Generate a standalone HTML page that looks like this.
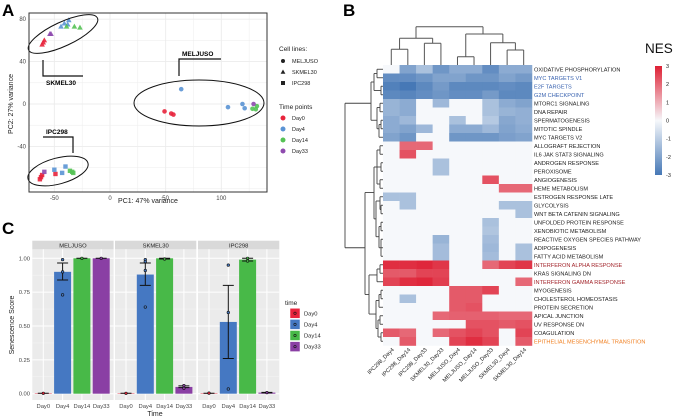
<!DOCTYPE html>
<html><head><meta charset="utf-8"><style>
html,body{margin:0;padding:0;background:#fff;}
svg{display:block;font-family:"Liberation Sans",sans-serif;}
</style></head><body>
<svg id="fig" width="675" height="417" viewBox="0 0 675 417">
<text x="2" y="16" font-size="17" font-weight="bold">A</text>
<text x="343" y="16" font-size="17" font-weight="bold">B</text>
<text x="2" y="234" font-size="17" font-weight="bold">C</text>
<g id="pa"></g>
<g id="pb"></g>
<g id="pc"></g>
</svg>
<script>
const NS="http://www.w3.org/2000/svg";
function mk(p,tag,at,txt){const e=document.createElementNS(NS,tag);for(const k in at)e.setAttribute(k,at[k]);if(txt!==undefined)e.textContent=txt;p.appendChild(e);return e;}
const COL={Day0:"#e8243c",Day4:"#5a93d4",Day14:"#55c255",Day33:"#8e4aae"};

/* ---------- Panel A data ---------- */
const pcaLines=["MELJUSO","MELJUSO","MELJUSO","MELJUSO","MELJUSO","MELJUSO","MELJUSO","MELJUSO","MELJUSO","MELJUSO","MELJUSO",
"SKMEL30","SKMEL30","SKMEL30","SKMEL30","SKMEL30","SKMEL30","SKMEL30","SKMEL30","SKMEL30","SKMEL30","SKMEL30","SKMEL30",
"IPC298","IPC298","IPC298","IPC298","IPC298","IPC298","IPC298","IPC298","IPC298","IPC298","IPC298"];
const pcaTimes=["Day0","Day0","Day0","Day4","Day4","Day4","Day4","Day14","Day14","Day14","Day33",
"Day0","Day0","Day0","Day33","Day33","Day4","Day4","Day4","Day4","Day14","Day14","Day14",
"Day0","Day0","Day0","Day33","Day4","Day4","Day4","Day14","Day14","Day14","Day0"];
const pc1=[49,55,57,64,106,119,121,128,131,132,129,
-61,-60,-59,-54,-53,-44,-41,-37,-38,-39,-32,-27,
-63,-61,-49,-59,-50,-43,-40,-36,-33,-34,-62];
const pc2=[-7,-9,-10,14,-3,0,-4,-4.5,-5,-2,0,
56,58,60,66,66,73,76,79,75,73,73,72,
-71,-67,-66,-64,-62,-65,-59,-63,-65,-64,-69];
const pcaXTicks=[-50,0,50,100];
const pcaYTicks=[-40,0,40,80];

(function(){
const g=document.getElementById('pa');
const L=29,R=267,T=13,B=192;
const xs=v=>110+v*1.113, ys=v=>104-v*1.06;
const bg=mk(g,'rect',{x:L,y:T,width:R-L,height:B-T,fill:'#fff'});


for(let v=-75;v<=140;v+=25){const x=xs(v);if(x<L||x>R)continue;const l=mk(g,'line',{x1:x,x2:x,y1:T,y2:B,stroke:'#ececec','stroke-width':pcaXTicks.includes(v)?0.9:0.5});

}
for(let v=-80;v<=90;v+=20){const y=ys(v);if(y<T||y>B)continue;const l=mk(g,'line',{x1:L,x2:R,y1:y,y2:y,stroke:'#ececec','stroke-width':pcaYTicks.includes(v)?0.9:0.5});

}
pcaXTicks.forEach(v=>{const t=mk(g,'text',{x:xs(v),y:B+8,'font-size':6,'text-anchor':'middle',fill:'#444'},String(v));

});
pcaYTicks.forEach(v=>{const t=mk(g,'text',{x:L-3,y:ys(v)+2,'font-size':6,'text-anchor':'end',fill:'#444'},String(v));

});
pc1.forEach((v,i)=>{const x=xs(v),y=ys(pc2[i]),c=COL[pcaTimes[i]],ln=pcaLines[i];let e;
if(ln==='MELJUSO')e=mk(g,'circle',{cx:x,cy:y,r:2.3,fill:c,opacity:0.9});
else if(ln==='SKMEL30')e=mk(g,'polygon',{points:`${x},${y-3} ${x-2.8},${y+2} ${x+2.8},${y+2}`,fill:c,opacity:0.9});
else e=mk(g,'rect',{x:x-2.2,y:y-2.2,width:4.4,height:4.4,fill:c,opacity:0.9});

});
const el=[[63,34,38,12,-25,'skmel30-cluster-ellipse'],[199,103,65,23,0,'meljuso-cluster-ellipse'],[58,171,31,13,-15,'ipc298-cluster-ellipse']];
el.forEach(a=>{const e=mk(g,'ellipse',{cx:a[0],cy:a[1],rx:a[2],ry:a[3],transform:`rotate(${a[4]} ${a[0]} ${a[1]})`,fill:'none',stroke:'#111','stroke-width':1});

});
const ll=[[43,60,43,76,83,76,'skmel30'],[179,76,179,59,221,59,'meljuso'],[73,153,73,137,43,137,'ipc298']];
ll.forEach(a=>{const p=mk(g,'polyline',{points:`${a[0]},${a[1]} ${a[2]},${a[3]} ${a[4]},${a[5]}`,fill:'none',stroke:'#111','stroke-width':1.2});

});
const lb=[[46,85,'SKMEL30'],[182,56,'MELJUSO'],[46,134,'IPC298']];
lb.forEach(a=>{const t=mk(g,'text',{x:a[0],y:a[1],'font-size':6.5,'font-weight':'bold'},a[2]);

});
const br=mk(g,'rect',{x:L,y:T,width:R-L,height:B-T,fill:'none',stroke:'#333','stroke-width':1});


let t=mk(g,'text',{x:148,y:203,'font-size':7,'text-anchor':'middle',fill:'#222'},'PC1: 47% variance');


t=mk(g,'text',{x:0,y:0,'font-size':7,'text-anchor':'middle',fill:'#222',transform:'translate(13,104) rotate(-90)'},'PC2: 27% variance');


t=mk(g,'text',{x:279,y:51,'font-size':6.5,fill:'#222'},'Cell lines:');


['MELJUSO','SKMEL30','IPC298'].forEach((n,i)=>{const y=61+i*11;let e;
if(i===0)e=mk(g,'circle',{cx:283,cy:y,r:2,fill:'#222'});
else if(i===1)e=mk(g,'polygon',{points:`283,${y-2.5} 280.6,${y+1.8} 285.4,${y+1.8}`,fill:'#222'});
else e=mk(g,'rect',{x:281,y:y-2,width:4,height:4,fill:'#222'});


const tt=mk(g,'text',{x:292,y:y+2,'font-size':5.5,fill:'#222'},n);

});
t=mk(g,'text',{x:279,y:109,'font-size':6.5,fill:'#222'},'Time points');


['Day0','Day4','Day14','Day33'].forEach((n,i)=>{const y=118+i*11;
const e=mk(g,'circle',{cx:283,cy:y,r:2.5,fill:COL[n]});


const tt=mk(g,'text',{x:292,y:y+2,'font-size':5.5,fill:'#222'},n);

});
})();

/* ---------- Panel B data ---------- */
const hmCols=["IPC298_Day4","IPC298_Day14","IPC298_Day33","SKMEL30_Day33","MELJUSO_Day4","MELJUSO_Day14","MELJUSO_Day33","SKMEL30_Day4","SKMEL30_Day14"];
const hmRows=["OXIDATIVE PHOSPHORYLATION","MYC TARGETS V1","E2F TARGETS","G2M CHECKPOINT","MTORC1 SIGNALING","DNA REPAIR","SPERMATOGENESIS","MITOTIC SPINDLE","MYC TARGETS V2","ALLOGRAFT REJECTION","IL6 JAK STAT3 SIGNALING","ANDROGEN RESPONSE","PEROXISOME","ANGIOGENESIS","HEME METABOLISM","ESTROGEN RESPONSE LATE","GLYCOLYSIS","WNT BETA CATENIN SIGNALING","UNFOLDED PROTEIN RESPONSE","XENOBIOTIC METABOLISM","REACTIVE OXYGEN SPECIES PATHWAY","ADIPOGENESIS","FATTY ACID METABOLISM","INTERFERON ALPHA RESPONSE","KRAS SIGNALING DN","INTERFERON GAMMA RESPONSE","MYOGENESIS","CHOLESTEROL HOMEOSTASIS","PROTEIN SECRETION","APICAL JUNCTION","UV RESPONSE DN","COAGULATION","EPITHELIAL MESENCHYMAL TRANSITION"];
const hmRowColors=["#222","#3a63b0","#3a63b0","#3a63b0","#222","#222","#222","#222","#222","#222","#222","#222","#222","#222","#222","#222","#222","#222","#222","#222","#222","#222","#222","#a3262c","#222","#a3262c","#222","#222","#222","#222","#222","#222","#f07f20"];
const nes=[
[0,-2,-1.3,-2.3,-1.8,-1.8,-2.5,-1.8,-1.8],
[-2.5,-2.5,-2.3,-2,-2,-2.3,-2.3,-2,-2.2],
[-2.8,-3,-2.6,-2.2,-2.6,-2.6,-2.6,-2.5,-2.6],
[-2.6,-2.7,-2.5,-2.3,-2.5,-2.5,-2.2,-2.6,-2.6],
[-1.6,-1.8,0,-1.5,0,0,-1.3,-1.8,-2],
[-1.6,-1.8,0,0,0,0,-1.3,-1.6,-1.7],
[-1.8,-1.5,0,0,-1.3,0,-1.1,-1.9,-1.7],
[-1.8,-2,-1.5,0,-1.8,-1.8,-1.5,-2,-1.8],
[-2,-2.3,0,0,-2.3,-2.3,-2.3,-2.1,-2],
[0,2,2,0,0,0,0,0,0],
[0,2.3,0,0,0,0,0,0,0],
[0,0,0,-1.3,0,0,0,0,0],
[0,0,0,-1.3,0,0,0,0,0],
[0,0,0,0,0,0,2.3,0,0],
[0,0,0,0,0,0,0,2,2],
[-1.3,-1.3,0,0,0,0,0,0,0],
[0,-1.3,0,0,0,0,0,-1.3,-1.3],
[0,0,0,0,0,0,0,0,-1.3],
[0,0,0,0,0,0,-1.3,0,0],
[0,0,0,0,0,0,-1.2,0,0],
[0,0,0,-1.6,0,0,-1.4,0,0],
[0,0,0,-1.4,0,0,-1.5,0,-1.3],
[0,0,0,-1.4,0,0,-1.4,0,-1.3],
[2.8,2.8,2.9,2.7,0,0,2,2.5,2.7],
[2.2,2.2,2.5,2.5,0,0,0,0,0],
[2.5,2.8,2.9,2.6,0,0,0,0,2],
[0,0,0,0,2.2,2.2,2.5,0,0],
[0,-1.3,0,0,2.2,2.2,0,0,0],
[0,0,0,0,2.2,2.3,0,0,0],
[0,0,0,2,2.1,2.1,2.1,2,2],
[0,0,0,0,0,2.3,2.3,2.2,2.3],
[2.2,2,0,2,2.3,2.5,2.3,0,2.5],
[0,2.2,0,0,2.5,2.8,2.5,0,2.2]];
const nesTicks=[3,2,1,0,-1,-2,-3];

(function(){
const g=document.getElementById('pb');
const X0=383,CW=16.55,Y0=65,RH=8.5;
const cx=i=>X0+CW*(i+0.5), ry=i=>Y0+RH*i;
const W=[246,248,251],BL=[70,120,182],RD=[222,32,52];
function col(v){const t=Math.min(Math.abs(v)/3,1),c=v<0?BL:RD;return `rgb(${W.map((w,k)=>Math.round(w+(c[k]-w)*t)).join(',')})`;}
nes.forEach((row,r)=>row.forEach((v,c)=>{const e=mk(g,'rect',{x:X0+CW*c,y:ry(r),width:CW+0.3,height:RH+0.3,fill:col(v)});

}));
hmRows.forEach((n,r)=>{const t=mk(g,'text',{x:534,y:ry(r)+RH/2+2.1,'font-size':5.6,fill:hmRowColors[r]},n);

});
hmCols.forEach((n,c)=>{const x=cx(c)+3,y=350;const t=mk(g,'text',{x:0,y:0,'font-size':5.6,'text-anchor':'end',fill:'#222',transform:`translate(${x},${y}) rotate(-45)`},n);

});
const td=[[cx(0),65,cx(0),49.3],[cx(1),65,cx(1),49.3],[cx(0),49.3,cx(1),49.3],
[cx(2),65,cx(2),43.3],[cx(3),65,cx(3),43.3],[cx(2),43.3,cx(3),43.3],
[(cx(0)+cx(1))/2,49.3,(cx(0)+cx(1))/2,38.3],[(cx(2)+cx(3))/2,43.3,(cx(2)+cx(3))/2,38.3],[(cx(0)+cx(1))/2,38.3,(cx(2)+cx(3))/2,38.3],
[cx(4),65,cx(4),56.7],[cx(5),65,cx(5),56.7],[cx(4),56.7,cx(5),56.7],
[cx(7),65,cx(7),50],[cx(8),65,cx(8),50],[cx(7),50,cx(8),50],
[cx(6),65,cx(6),42.7],[(cx(7)+cx(8))/2,50,(cx(7)+cx(8))/2,42.7],[cx(6),42.7,(cx(7)+cx(8))/2,42.7],
[(cx(4)+cx(5))/2,56.7,(cx(4)+cx(5))/2,34],[(cx(6)+cx(7))/2+4,42.7,(cx(6)+cx(7))/2+4,34],[(cx(4)+cx(5))/2,34,(cx(6)+cx(7))/2+4,34],
[416,38.3,416,26.7],[483,34,483,26.7],[416,26.7,483,26.7]];
td.forEach(a=>{const l=mk(g,'line',{x1:a[0],y1:a[1],x2:a[2],y2:a[3],stroke:'#555','stroke-width':1});

});
const rc=i=>ry(i)+RH/2;
const ld=[
[383,rc(0),377,rc(0)],[383,rc(1),377,rc(1)],[377,rc(0),377,rc(1)],
[383,rc(2),381,rc(2)],[383,rc(3),381,rc(3)],[381,rc(2),381,rc(3)],[381,(rc(2)+rc(3))/2,377,(rc(2)+rc(3))/2],
[377,(rc(0)+rc(1))/2,374,(rc(0)+rc(1))/2],[377,(rc(2)+rc(3))/2,374,(rc(2)+rc(3))/2],[374,(rc(0)+rc(1))/2,374,(rc(2)+rc(3))/2],
[383,rc(4),380,rc(4)],[383,rc(5),380,rc(5)],[380,rc(4),380,rc(5)],
[383,rc(6),381,rc(6)],[383,rc(7),381,rc(7)],[381,rc(6),381,rc(7)],[381,(rc(6)+rc(7))/2,379,(rc(6)+rc(7))/2],[383,rc(8),379,rc(8)],[379,(rc(6)+rc(7))/2,379,rc(8)],
[380,(rc(4)+rc(5))/2,377,(rc(4)+rc(5))/2],[379,rc(7),377,rc(7)],[377,(rc(4)+rc(5))/2,377,rc(7)],
[374,rc(1.5),371,rc(1.5)],[377,rc(6),371,rc(6)],[371,rc(1.5),371,rc(6)],
[371,rc(4),345,rc(4)],[345,rc(4),345,rc(21)],
[383,rc(9),380,rc(9)],[383,rc(10),380,rc(10)],[380,rc(9),380,rc(10)],
[383,rc(11),381,rc(11)],[383,rc(12),381,rc(12)],[381,rc(11),381,rc(12)],
[383,rc(13),380,rc(13)],[383,rc(14),380,rc(14)],[380,rc(13),380,rc(14)],
[380,rc(9.5),377,rc(9.5)],[381,rc(11.5),377,rc(11.5)],[380,rc(13.5),377,rc(13.5)],[377,rc(9.5),377,rc(13.5)],
[383,rc(15),380,rc(15)],[383,rc(16),381,rc(16)],[383,rc(17),381,rc(17)],[381,rc(16),381,rc(17)],[380,rc(15),380,rc(16.5)],[381,rc(16.5),380,rc(16.5)],
[383,rc(18),381,rc(18)],[383,rc(19),381,rc(19)],[381,rc(18),381,rc(19)],
[383,rc(20),381,rc(20)],[383,rc(21),381,rc(21)],[383,rc(22),381,rc(22)],[381,rc(20),381,rc(22)],
[381,rc(18.5),379,rc(18.5)],[381,rc(21),379,rc(21)],[379,rc(18.5),379,rc(21)],
[380,rc(15.5),376,rc(15.5)],[379,rc(19.7),376,rc(19.7)],[376,rc(15.5),376,rc(19.7)],
[377,rc(11.5),374,rc(11.5)],[376,rc(17.6),374,rc(17.6)],[374,rc(11.5),374,rc(17.6)],
[374,rc(14.5),365,rc(14.5)],
[383,rc(23),380,rc(23)],[383,rc(24),380,rc(24)],[380,rc(23),380,rc(24)],[380,rc(23.5),377,rc(23.5)],[383,rc(25),377,rc(25)],[377,rc(23.5),377,rc(25)],
[383,rc(26),381,rc(26)],[383,rc(27),381,rc(27)],[381,rc(26),381,rc(27)],[381,rc(26.5),379,rc(26.5)],[383,rc(28),379,rc(28)],[379,rc(26.5),379,rc(28)],
[383,rc(29),380,rc(29)],[383,rc(30),380,rc(30)],[380,rc(29),380,rc(30)],
[383,rc(31),381,rc(31)],[383,rc(32),381,rc(32)],[381,rc(31),381,rc(32)],
[380,rc(29.5),378,rc(29.5)],[381,rc(31.5),378,rc(31.5)],[378,rc(29.5),378,rc(31.5)],
[379,rc(27.2),376,rc(27.2)],[378,rc(30.5),376,rc(30.5)],[376,rc(27.2),376,rc(30.5)],
[377,rc(24.2),369,rc(24.2)],[376,rc(28.8),369,rc(28.8)],[369,rc(24.2),369,rc(28.8)],
[365,rc(14.5),365,rc(26.5)],[369,rc(26.5),365,rc(26.5)],[365,rc(21),345,rc(21)]];
ld.forEach(a=>{const l=mk(g,'line',{x1:a[0],y1:a[1],x2:a[2],y2:a[3],stroke:'#444','stroke-width':0.9});

});
let t=mk(g,'text',{x:645,y:53,'font-size':13.5,fill:'#111'},'NES');


const defs=mk(g,'defs',{});
const lg=mk(defs,'linearGradient',{id:'nesgrad',x1:0,y1:0,x2:0,y2:1});
[[0,'rgb(222,32,52)'],[0.5,'rgb(246,248,251)'],[1,'rgb(70,120,182)']].forEach(s=>mk(lg,'stop',{offset:s[0],'stop-color':s[1]}));
const cb=mk(g,'rect',{x:655,y:66,width:7,height:109,fill:'url(#nesgrad)'});


nesTicks.forEach(v=>{const y=120.5-v*18.2;const tt=mk(g,'text',{x:666,y:y+2,'font-size':5.5,fill:'#222'},String(v));

});
})();

/* ---------- Panel C data ---------- */
const cellLines=["MELJUSO","SKMEL30","IPC298"];
const timeCats=["Day0","Day4","Day14","Day33"];
const scoreMean=[[0.003,0.90,1.0,1.0],[0.003,0.88,1.0,0.05],[0.003,0.53,0.99,0.008]];
const scoreLo=[[0.003,0.84,1.0,1.0],[0.003,0.80,0.995,0.045],[0.003,0.26,0.98,0.006]];
const scoreHi=[[0.003,0.965,1.0,1.0],[0.003,0.965,1.0,0.058],[0.003,0.80,1.0,0.01]];
const scorePts=[[[0.003],[0.73,0.90,0.99],[1.0],[1.0]],[[0.003],[0.64,0.91,0.99,0.975],[0.995],[0.04,0.06]],[[0.004],[0.035,0.60,0.95],[0.98,1.0],[0.008]]];
const scoreTicks=[0,0.25,0.5,0.75,1.0];
const scoreTickLabels=["0.00","0.25","0.50","0.75","1.00"];

(function(){
const g=document.getElementById('pc');
const T=249.3,B=400,panelX=[32.3,115,198],PW=81.3;
const ys=v=>393.7-v*135.4;
const BC={Day0:"#e8243c",Day4:"#4578c2",Day14:"#48b948",Day33:"#8a3fa4"};
cellLines.forEach((n,p)=>{const x0=panelX[p];
const bg=mk(g,'rect',{x:x0,y:T,width:PW,height:B-T,fill:'#ebebeb'});


const st=mk(g,'rect',{x:x0,y:240.7,width:PW,height:8.6,fill:'#d9d9d9'});


const stt=mk(g,'text',{x:x0+PW/2,y:247.3,'font-size':5.8,'text-anchor':'middle',fill:'#222'},n);


for(let v=0.125;v<1.1;v+=0.25){const l=mk(g,'line',{x1:x0,x2:x0+PW,y1:ys(v),y2:ys(v),stroke:'#f5f5f5','stroke-width':0.5});

}
scoreTicks.forEach(v=>{const l=mk(g,'line',{x1:x0,x2:x0+PW,y1:ys(v),y2:ys(v),stroke:'#fff','stroke-width':1});

});
const bx=i=>x0+11+i*19.3;
timeCats.forEach((tc,i)=>{const l=mk(g,'line',{x1:bx(i),x2:bx(i),y1:T,y2:B,stroke:'#fff','stroke-width':1});


const tt=mk(g,'text',{x:bx(i),y:408,'font-size':5.8,'text-anchor':'middle',fill:'#444'},tc);

});
timeCats.forEach((tc,i)=>{const m=scoreMean[p][i],x=bx(i);
const b=mk(g,'rect',{x:x-8.5,y:ys(m),width:17,height:Math.max(ys(0)-ys(m),0.4),fill:BC[tc]});


const lo=ys(scoreLo[p][i]),hi=ys(scoreHi[p][i]);
const e=mk(g,'path',{d:`M${x-5.5},${hi}H${x+5.5}M${x},${hi}V${lo}M${x-5.5},${lo}H${x+5.5}`,stroke:'#111','stroke-width':1,fill:'none'});


scorePts[p][i].forEach(v=>{const c=mk(g,'circle',{cx:x,cy:ys(v),r:1.3,fill:BC[tc],stroke:'#111','stroke-width':0.6});

});});
});
scoreTicks.forEach((v,i)=>{const t=mk(g,'text',{x:30,y:ys(v)+2,'font-size':5.8,'text-anchor':'end',fill:'#444'},scoreTickLabels[i]);

});
let t=mk(g,'text',{x:155,y:416,'font-size':7,'text-anchor':'middle',fill:'#222'},'Time');


t=mk(g,'text',{x:0,y:0,'font-size':7,'text-anchor':'middle',fill:'#222',transform:'translate(14,325) rotate(-90)'},'Senescence Score');


t=mk(g,'text',{x:285,y:305,'font-size':6.5,fill:'#222'},'time');


timeCats.forEach((tc,i)=>{const y=313.3+i*11.1;
const k=mk(g,'rect',{x:290,y:y-5,width:10,height:10,fill:BC[tc],stroke:'#fff','stroke-width':0.5});


const d=mk(g,'circle',{cx:295,cy:y,r:1.2,fill:'none',stroke:'#111','stroke-width':0.6});


const tt=mk(g,'text',{x:304,y:y+2,'font-size':5.8,fill:'#222'},tc);

});
})();
</script>
</body></html>
